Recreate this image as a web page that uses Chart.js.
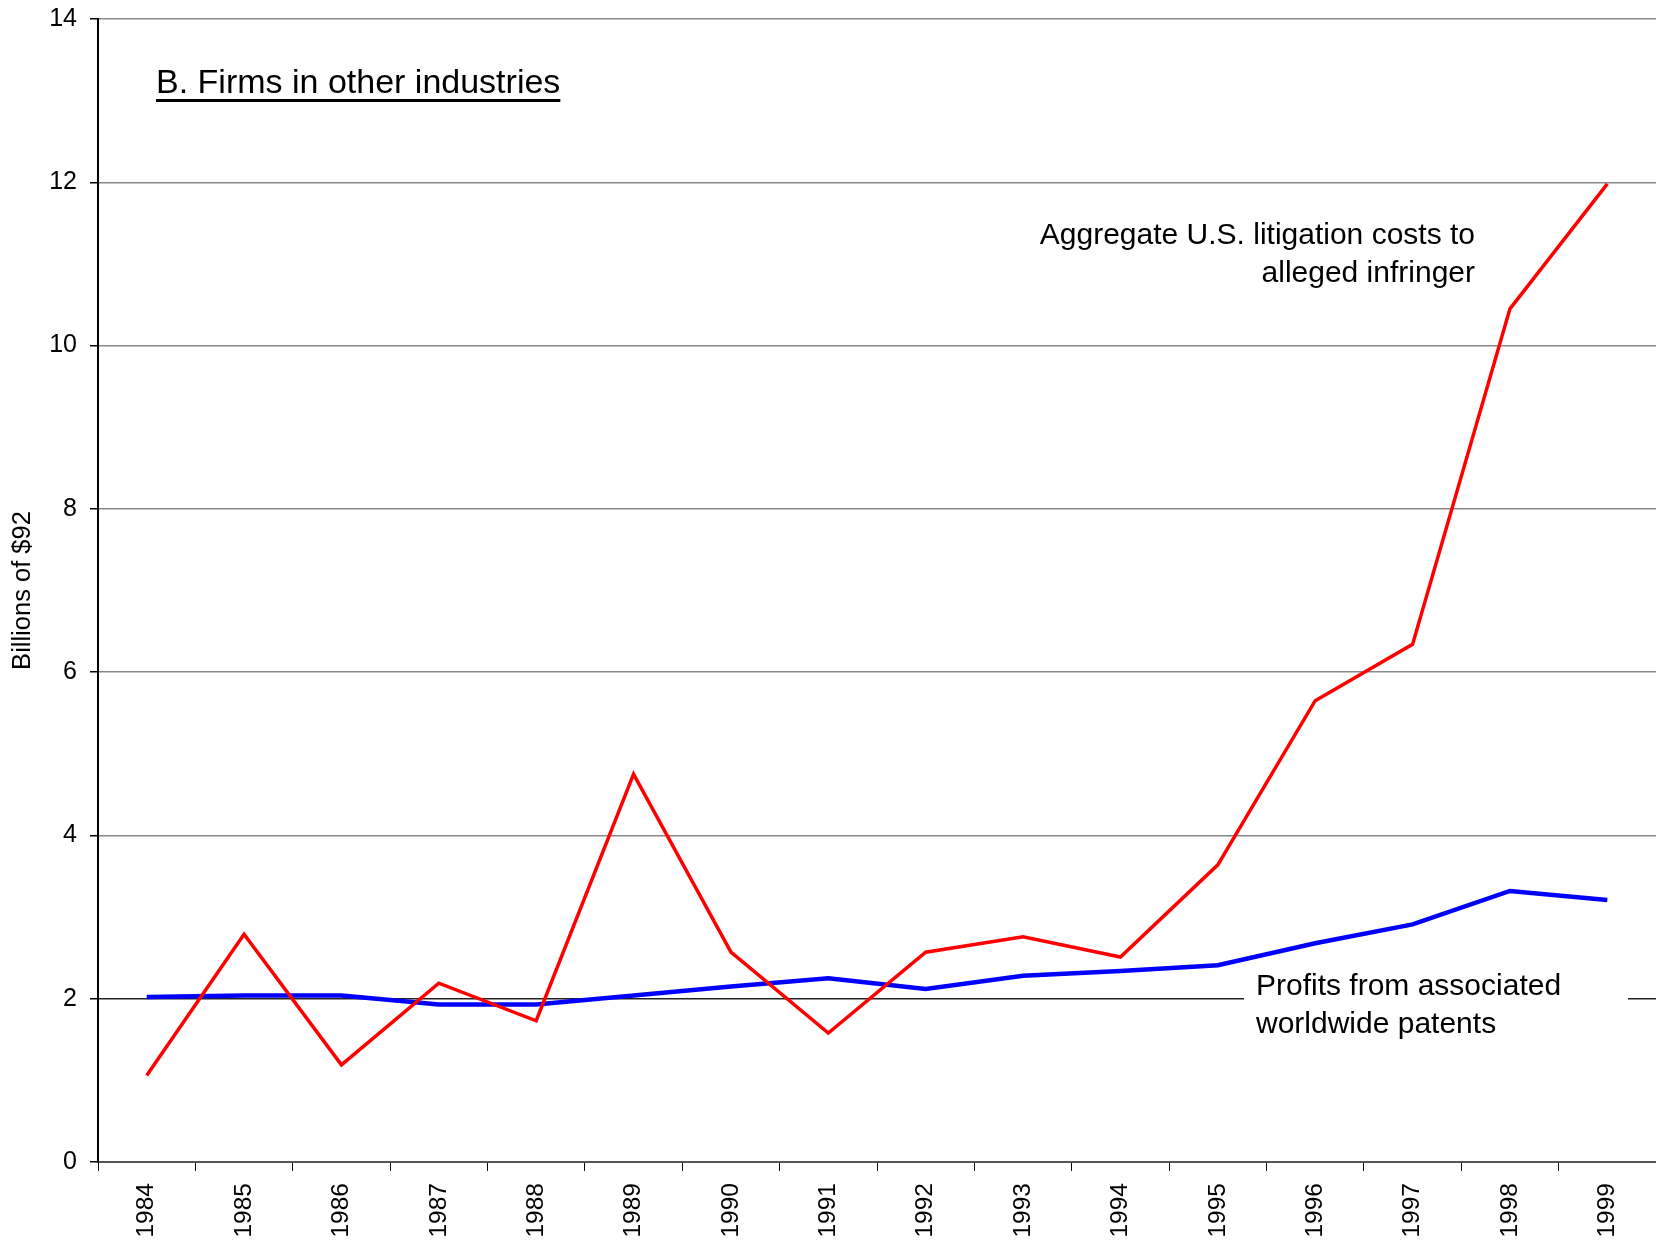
<!DOCTYPE html>
<html>
<head>
<meta charset="utf-8">
<script src="https://cdn.jsdelivr.net/npm/chart.js@4/dist/chart.umd.min.js"></script>
<style>
  body { margin: 0; background: #fff; }
  canvas { display: block; }
</style>
</head>
<body>
<canvas id="graphe" width="1656" height="1245"></canvas>
<script>
// Données
const annees = ['1984', '1985', '1986', '1987', '1988', '1989', '1990', '1991',
                '1992', '1993', '1994', '1995', '1996', '1997', '1998', '1999'];
const coutsLitige = [1.06, 2.79, 1.19, 2.19, 1.73, 4.75, 2.57, 1.58,
                     2.57, 2.76, 2.51, 3.64, 5.65, 6.34, 10.45, 11.98];
const profitsBrevets = [2.02, 2.04, 2.04, 1.93, 1.93, 2.04, 2.15, 2.25,
                        2.12, 2.28, 2.34, 2.41, 2.68, 2.91, 3.32, 3.21];
const yTicks = [0, 2, 4, 6, 8, 10, 12, 14];

const police = 'Liberation Sans, Arial, sans-serif';

// Textes dessinés par-dessus le graphique
const annotations = {
    id: 'annotations',
    beforeDatasetsDraw(chart) {
        const ctx = chart.ctx;
        // fond blanc derrière le texte "Profits..." (cache la grille)
        ctx.save();
        ctx.fillStyle = '#fff';
        ctx.fillRect(1244, 968, 384, 80);
        ctx.restore();
    },
    afterDatasetsDraw(chart) {
        const ctx = chart.ctx;
        ctx.save();
        ctx.fillStyle = '#000';
        ctx.textBaseline = 'middle';

        // titre souligné
        ctx.font = '34px ' + police;
        ctx.textAlign = 'left';
        const titre = 'B. Firms in other industries';
        ctx.fillText(titre, 156, 84);
        const w = ctx.measureText(titre).width;
        ctx.fillRect(156, 99, w, 3);

        ctx.font = '30px ' + police;
        ctx.textAlign = 'right';
        ctx.fillText('Aggregate U.S. litigation costs to', 1475, 236);
        ctx.fillText('alleged infringer', 1475, 274);

        ctx.textAlign = 'left';
        ctx.fillText('Profits from associated', 1256, 987);
        ctx.fillText('worldwide patents', 1256, 1025);
        ctx.restore();
    }
};

const ctx = document.getElementById('graphe').getContext('2d');
const chartInstance = new Chart(ctx, {
    type: 'line',
    data: {
        labels: annees,
        datasets: [{
            label: 'Aggregate U.S. litigation costs to alleged infringer',
            data: coutsLitige,
            borderColor: '#ff0000',
            borderWidth: 3.5,
            pointRadius: 0,
            tension: 0,
            fill: false
        }, {
            label: 'Profits from associated worldwide patents',
            data: profitsBrevets,
            borderColor: '#0000ff',
            borderWidth: 4.5,
            pointRadius: 0,
            tension: 0,
            fill: false
        }]
    },
    options: {
        responsive: false,
        animation: false,
        layout: { padding: { top: 19, right: 0, bottom: 0, left: 0 } },
        plugins: {
            legend: { display: false },
            tooltip: { enabled: false }
        },
        scales: {
            x: {
                offset: true,
                grid: {
                    offset: true,
                    drawOnChartArea: false,
                    drawTicks: true,
                    tickLength: 9,
                    tickColor: '#000'
                },
                border: { color: '#555', width: 2 },
                ticks: {
                    color: '#000',
                    font: { family: police, size: 24.5 },
                    minRotation: 90,
                    maxRotation: 90,
                    padding: 12,
                    autoSkip: false
                },
                afterFit(scale) { scale.height = 83; }
            },
            y: {
                min: 0,
                max: 14,
                afterBuildTicks(scale) {
                    scale.ticks = yTicks.map(v => ({ value: v }));
                },
                grid: {
                    color: c => (c.tick && c.tick.value === 2) ? '#222' : '#888',
                    lineWidth: 1.5,
                    drawTicks: true,
                    tickLength: 8,
                    tickColor: '#000'
                },
                border: { color: '#000', width: 2 },
                ticks: {
                    color: '#000',
                    font: { family: police, size: 25 },
                    padding: 13
                },
                title: {
                    display: true,
                    text: 'Billions of $92',
                    color: '#000',
                    font: { family: police, size: 25.5 },
                    padding: { top: 8, bottom: 0 }
                },
                afterFit(scale) {
                    scale.width = 98;
                    scale.paddingTop = 0;
                    scale.paddingBottom = 0;
                }
            }
        }
    },
    plugins: [annotations]
});
</script>
</body>
</html>
